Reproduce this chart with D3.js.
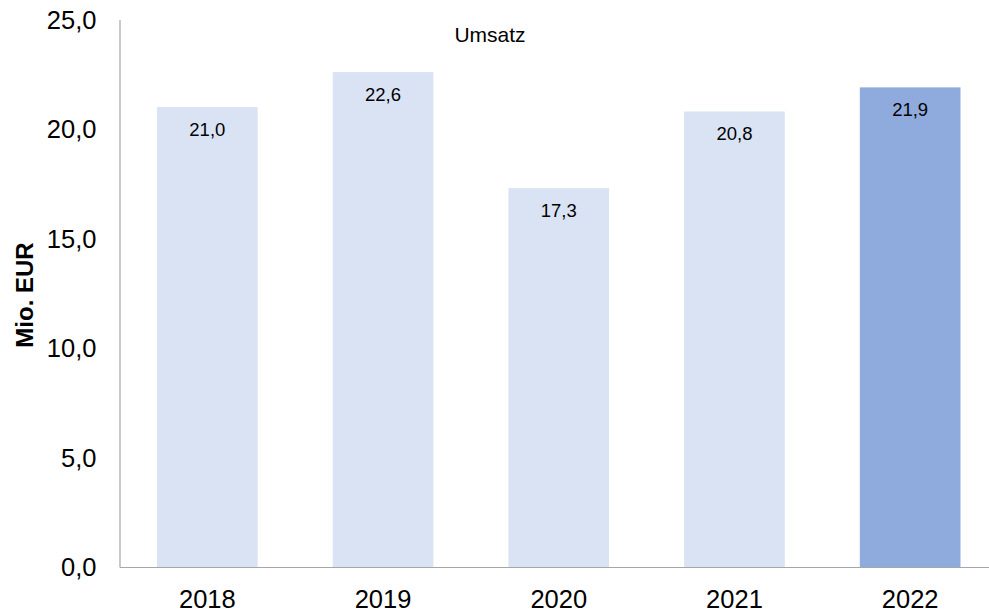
<!DOCTYPE html>
<html>
<head>
<meta charset="utf-8">
<script src="https://cdn.jsdelivr.net/npm/d3@7"></script>
<style>
	body { margin: 0; background: #fff; }
	svg text { font-family: "Liberation Sans", Arial, sans-serif; fill: #000; }
</style>
</head>
<body>
<div id="chart"></div>
<script>
const years		= ["2018", "2019", "2020", "2021", "2022"];
const umsatz	= [21.0, 22.6, 17.3, 20.8, 21.9];
const yTicks	= [0, 5, 10, 15, 20, 25];
const highlight	= "2022";

let canvasWidth		= 989;
let canvasHeight	= 614;

let margin	= { top: 19.5, left: 119.5 };
let height	= 567 - margin.top;
let width	= 878.5;

let x = d3.scaleBand().domain(years).range([0, width]).paddingInner(0.427).paddingOuter(0.2135);
let y = d3.scaleLinear().domain([0, 25]).range([height, 0]);

let fmt = (v) => d3.format(".1f")(v).replace(".", ",");

let svg = d3.select("#chart").append("svg")
	.attr("width", canvasWidth)
	.attr("height", canvasHeight)
	.append("g")
		.attr("transform", "translate(" + margin.left + "," + margin.top + ")");

let data = years.map((yr, i) => ({ year: yr, value: umsatz[i] }));

svg.append("g").attr("class", "bars")
	.selectAll("rect").data(data).enter().append("rect")
		.attr("x", (o) => x(o.year))
		.attr("width", x.bandwidth())
		.attr("y", (o) => y(o.value))
		.attr("height", (o) => height - y(o.value))
		.attr("fill", (o) => (o.year === highlight ? "#8FAADC" : "#DAE3F3"));

svg.append("g").attr("class", "labels")
	.selectAll("text").data(data).enter().append("text")
		.attr("x", (o) => x(o.year) + x.bandwidth() / 2)
		.attr("y", (o) => y(o.value) + 29)
		.attr("text-anchor", "middle")
		.style("font-size", "18.5px")
		.text((o) => fmt(o.value));

// y axis
let yAxis = svg.append("g")
	.call(d3.axisLeft(y).tickValues(yTicks).tickSize(0).tickPadding(23).tickFormat(fmt));
yAxis.select(".domain").attr("stroke", "#A6A6A6").attr("stroke-width", 1.2);
yAxis.selectAll(".tick text").style("font-size", "25.5px").attr("dy", "0.35em");

// x axis
let xAxis = svg.append("g")
	.attr("transform", "translate(0," + height + ")")
	.call(d3.axisBottom(x).tickSize(0).tickPadding(32));
xAxis.select(".domain").attr("stroke", "#A6A6A6").attr("stroke-width", 1.2);
xAxis.selectAll(".tick text").style("font-size", "25.5px").attr("dy", "0.35em");

// series title
svg.append("text")
	.attr("x", 490 - margin.left)
	.attr("y", 42 - margin.top)
	.attr("text-anchor", "middle")
	.style("font-size", "21px")
	.text("Umsatz");

// y axis title
svg.append("text")
	.attr("transform", "translate(" + (33 - margin.left) + "," + (295 - margin.top) + ") rotate(-90)")
	.attr("text-anchor", "middle")
	.style("font-size", "24px")
	.style("font-weight", "bold")
	.text("Mio. EUR");
</script>
</body>
</html>
